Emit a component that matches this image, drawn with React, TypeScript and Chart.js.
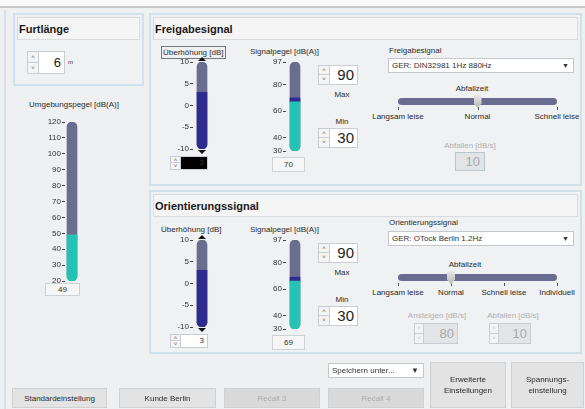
import React, { useEffect, useRef } from "react";
import { Chart, registerables } from "chart.js";
Chart.register(...registerables);

// ---- data ----
const ambientTicks = [20, 30, 40, 50, 60, 70, 80, 90, 100, 110, 120];
const ambientLevel = 49;
const boostTicks = [-10, -5, 0, 5, 10];
const signalTicks = [30, 40, 60, 80, 97];
const releaseBoost = 3;
const releaseSignal = [67, 70]; // base level, level incl. boost
const releaseMax = 90;
const releaseMin = 30;
const orientBoost = 3;
const orientSignal = [66, 69];
const orientMax = 90;
const orientMin = 30;
const ford = 6;
const releaseSteps = ["Langsam leise", "Normal", "Schnell leise"];
const orientSteps = ["Langsam leise", "Normal", "Schnell leise", "Individuell"];
const releaseStep = 1;
const orientStep = 1;
const releaseDecay = 10;
const orientRise = 80;
const orientDecay = 10;

const UI = '"Liberation Sans", Arial, sans-serif';
const GRAY = "#6b6d90";
const INDIGO = "#2f2b8f";
const TEAL = "#24c3b5";

type Seg = { from: number; to: number; color: string; round: "all" | "bottom" | "none" };

function Gauge(props: {
  ticks: number[];
  segs: Seg[];
  caps?: boolean;
  left: number;
  top: number;
  width: number;
  height: number;
  axisW: number;
}) {
  const ref = useRef<HTMLCanvasElement>(null);
  useEffect(() => {
    if (!ref.current) return;
    const { ticks, segs, caps, axisW } = props;
    const capPlugin = {
      id: "caps",
      afterDatasetsDraw(chart: any) {
        if (!caps) return;
        const ctx = chart.ctx;
        const el = chart.getDatasetMeta(0).data[0];
        const x = el.x;
        const { top, bottom } = chart.chartArea;
        ctx.save();
        ctx.fillStyle = "#111";
        ctx.beginPath();
        ctx.moveTo(x - 4, top - 1);
        ctx.lineTo(x + 4, top - 1);
        ctx.lineTo(x, top - 5);
        ctx.closePath();
        ctx.fill();
        ctx.beginPath();
        ctx.moveTo(x - 4, bottom + 1);
        ctx.lineTo(x + 4, bottom + 1);
        ctx.lineTo(x, bottom + 5);
        ctx.closePath();
        ctx.fill();
        ctx.restore();
      },
    };
    const chart = new Chart(ref.current, {
      type: "bar",
      data: {
        labels: [""],
        datasets: segs.map((s) => ({
          data: [[s.from, s.to]] as any,
          backgroundColor: s.color,
          barThickness: 10,
          grouped: false,
          borderSkipped: false,
          borderRadius:
            s.round === "all"
              ? 5
              : s.round === "bottom"
              ? { topLeft: 0, topRight: 0, bottomLeft: 5, bottomRight: 5 }
              : 0,
        })),
      } as any,
      options: {
        animation: false,
        responsive: false,
        maintainAspectRatio: false,
        layout: { padding: { top: 6, bottom: 6, left: 0, right: 0 } },
        plugins: { legend: { display: false }, tooltip: { enabled: false } },
        scales: {
          x: { display: false },
          y: {
            min: ticks[0],
            max: ticks[ticks.length - 1],
            afterBuildTicks: (s: any) => {
              s.ticks = ticks.map((v) => ({ value: v }));
            },
            afterFit: (s: any) => {
              s.width = axisW;
            },
            ticks: {
              autoSkip: false,
              padding: 1,
              color: "#333",
              font: { size: 8, family: UI },
            },
            grid: { drawOnChartArea: false, drawTicks: true, tickLength: 3, color: "#444" },
            border: { display: false },
          },
        },
      } as any,
      plugins: [capPlugin],
    });
    return () => chart.destroy();
  }, []);
  return (
    <canvas
      ref={ref}
      width={props.width}
      height={props.height}
      style={{ position: "absolute", left: props.left, top: props.top, width: props.width, height: props.height }}
    />
  );
}

const abs = (l: number, t: number, w?: number, h?: number): React.CSSProperties => ({
  position: "absolute",
  left: l,
  top: t,
  width: w,
  height: h,
  boxSizing: "border-box",
});

function Text(p: { l: number; t: number; w?: number; s?: number; c?: string; b?: boolean; align?: any; children: any; box?: boolean }) {
  return (
    <div
      style={{
        ...abs(p.l, p.t, p.w),
        fontSize: p.s ?? 8,
        color: p.c ?? "#2a2a2a",
        fontWeight: p.b ? "bold" : "normal",
        textAlign: p.align ?? "left",
        whiteSpace: "nowrap",
        lineHeight: "11px",
        border: p.box ? "1px solid #777" : undefined,
        padding: p.box ? "0 1px" : undefined,
      }}
    >
      {p.children}
    </div>
  );
}

function Spinner(p: {
  l: number;
  t: number;
  w: number;
  h: number;
  value: any;
  size: number;
  bg?: string;
  color?: string;
  disabled?: boolean;
  btnW?: number;
}) {
  const bw = p.btnW ?? 11;
  const bcol = p.disabled ? "#bbb" : "#555";
  return (
    <div style={{ ...abs(p.l, p.t, p.w, p.h), border: "1px solid #c9cdd1", background: "#f4f4f4" }}>
      <div style={{ ...abs(0, 0, bw, (p.h - 2) / 2), borderRight: "1px solid #c9cdd1", borderBottom: "1px solid #c9cdd1", fontSize: 6, color: bcol, textAlign: "center", lineHeight: (p.h - 2) / 2 + "px" }}>˄</div>
      <div style={{ ...abs(0, (p.h - 2) / 2, bw, (p.h - 2) / 2), borderRight: "1px solid #c9cdd1", fontSize: 6, color: bcol, textAlign: "center", lineHeight: (p.h - 2) / 2 + "px" }}>˅</div>
      <div
        style={{
          ...abs(bw, 0, p.w - bw - 2, p.h - 2),
          background: p.bg ?? "#fff",
          color: p.color ?? (p.disabled ? "#a9a9a9" : "#222"),
          fontSize: p.size,
          textAlign: "right",
          paddingRight: 3,
          lineHeight: p.h - 2 + "px",
        }}
      >
        {p.value}
      </div>
    </div>
  );
}

function ValueBox(p: { l: number; t: number; w: number; h: number; v: any }) {
  return (
    <div style={{ ...abs(p.l, p.t, p.w, p.h), border: "1px solid #cfd2d5", background: "#f6f6f6", fontSize: 8, color: "#333", textAlign: "center", lineHeight: p.h - 2 + "px" }}>
      {p.v}
    </div>
  );
}

function Panel(p: { l: number; t: number; w: number; h: number; title: string }) {
  return (
    <div style={{ ...abs(p.l, p.t, p.w, p.h), border: "2px solid #cde2ea", background: "#f0f1f2" }}>
      <div style={{ ...abs(2, 2, p.w - 8, 23), border: "1px solid #d8dcdf", background: "#f5f5f5" }} />
      <div style={{ ...abs(4, 8, undefined, undefined), fontSize: 11, fontWeight: "bold", color: "#1a1a1a", fontFamily: UI, lineHeight: "12px" }}>{p.title}</div>
    </div>
  );
}

function Dropdown(p: { l: number; t: number; w: number; h: number; text: string }) {
  return (
    <div style={{ ...abs(p.l, p.t, p.w, p.h), border: "1px solid #c4c8cc", background: "#fff", fontSize: 8, color: "#333", paddingLeft: 3, lineHeight: p.h - 2 + "px" }}>
      {p.text}
      <span style={{ position: "absolute", right: 4, top: 0, fontSize: 7, color: "#333" }}>▼</span>
    </div>
  );
}

function Slider(p: { l: number; t: number; w: number; steps: string[]; idx: number; title: string; titleX: number }) {
  const n = p.steps.length;
  const pos = (i: number) => (p.w * i) / (n - 1);
  return (
    <>
      <Text l={p.titleX - 40} t={p.t - 15} w={80} align="center">{p.title}</Text>
      <div style={{ ...abs(p.l, p.t, p.w, 7), background: GRAY, borderRadius: 4 }} />
      {p.steps.map((s, i) => (
        <React.Fragment key={s}>
          <div style={{ ...abs(p.l + pos(i), p.t + 9, 1, 3), background: "#555" }} />
          <Text l={p.l + pos(i) - 35} t={p.t + 13} w={70} align="center">{s}</Text>
        </React.Fragment>
      ))}
      <div
        style={{
          ...abs(p.l + pos(p.idx) - 4, p.t - 3, 8, 13),
          background: "linear-gradient(#e8e8e8,#b9b9b9)",
          clipPath: "polygon(0 0,100% 0,100% 65%,50% 100%,0 65%)",
        }}
      />
    </>
  );
}

function Button(p: { l: number; t: number; w: number; h: number; text: any; disabled?: boolean }) {
  return (
    <div
      style={{
        ...abs(p.l, p.t, p.w, p.h),
        border: "1px solid #d0d0d0",
        background: p.disabled ? "#d9d9d9" : "#e3e3e3",
        color: p.disabled ? "#ababab" : "#2a2a2a",
        fontSize: 8,
        display: "flex",
        alignItems: "center",
        justifyContent: "center",
        textAlign: "center",
        lineHeight: "11px",
      }}
    >
      {p.text}
    </div>
  );
}

function SignalBlock(p: { y: number; boost: number; sig: number[]; max: number; min: number; boxed: boolean; black: boolean }) {
  const y = p.y;
  return (
    <>
      <Text l={161} t={y - 6} box={p.boxed}>Überhöhung [dB]</Text>
      <Gauge
        ticks={boostTicks}
        segs={[
          { from: boostTicks[0], to: p.boost, color: INDIGO, round: "bottom" },
          { from: boostTicks[0], to: boostTicks[boostTicks.length - 1], color: GRAY, round: "all" },
        ]}
        caps
        left={163}
        top={y + 4}
        width={48}
        height={87 + 12}
        axisW={30}
      />
      <Spinner l={170} t={y + 104} w={38} h={14} value={p.boost} size={8} bg={p.black ? "#000" : "#fff"} color="#333" btnW={10} />
      <Text l={250} t={y - 6}>Signalpegel [dB(A)]</Text>
      <Gauge
        ticks={signalTicks}
        segs={[
          { from: signalTicks[0], to: p.sig[0], color: TEAL, round: "bottom" },
          { from: p.sig[0], to: p.sig[1], color: INDIGO, round: "none" },
          { from: signalTicks[0], to: signalTicks[signalTicks.length - 1], color: GRAY, round: "all" },
        ]}
        left={256}
        top={y + 4}
        width={48}
        height={89 + 12}
        axisW={30}
      />
      <ValueBox l={272} t={y + 105} w={33} h={15} v={p.sig[1]} />
      <Spinner l={318} t={y + 13} w={40} h={20} value={p.max} size={15} />
      <Text l={322} t={y + 37} w={40} align="center">Max</Text>
      <Text l={322} t={y + 64} w={40} align="center">Min</Text>
      <Spinner l={318} t={y + 76} w={40} h={20} value={p.min} size={15} />
    </>
  );
}

export default function App() {
  useEffect(() => {
    document.body.style.margin = "0";
  }, []);
  return (
    <div style={{ position: "fixed", left: 0, top: 0, width: 585, height: 409, overflow: "hidden", background: "#eef0f1", fontFamily: UI }}>
      <div style={{ ...abs(0, 0, 585, 8), background: "#f9f9f9", borderBottom: "2px solid #c9c9c9" }} />
      <div style={{ ...abs(4, 10, 2, 399), background: "#d4e4ea" }} />

      {/* Furtlänge */}
      <Panel l={13} t={13} w={131} h={73} title="Furtlänge" />
      <Spinner l={27} t={51} w={38} h={23} value={ford} size={13} />
      <Text l={68} t={57} s={6}>m</Text>

      {/* Umgebungspegel */}
      <Text l={15} t={99} w={118} align="center">Umgebungspegel [dB(A)]</Text>
      <Gauge
        ticks={ambientTicks}
        segs={[
          { from: ambientTicks[0], to: ambientLevel, color: TEAL, round: "bottom" },
          { from: ambientTicks[0], to: ambientTicks[ambientTicks.length - 1], color: GRAY, round: "all" },
        ]}
        left={35}
        top={116}
        width={44}
        height={171}
        axisW={30}
      />
      <ValueBox l={45} t={283} w={35} h={13} v={ambientLevel} />

      {/* Freigabesignal */}
      <Panel l={149} t={13} w={433} h={173} title="Freigabesignal" />
      <SignalBlock y={52} boost={releaseBoost} sig={releaseSignal} max={releaseMax} min={releaseMin} boxed black />
      <Text l={389} t={45}>Freigabesignal</Text>
      <Dropdown l={388} t={58} w={186} h={15} text="GER: DIN32981 1Hz 880Hz" />
      <Slider l={398} t={98} w={159} steps={releaseSteps} idx={releaseStep} title="Abfallzeit" titleX={472} />
      <Text l={420} t={140} w={100} align="center" c="#b0b0b0">Abfallen [dB/s]</Text>
      <div style={{ ...abs(455, 152, 30, 19), border: "1px solid #b7c7d0", background: "#e2e4e6", color: "#a9a9a9", fontSize: 13, textAlign: "right", paddingRight: 4, lineHeight: "17px" }}>{releaseDecay}</div>

      {/* Orientierungssignal */}
      <Panel l={149} t={190} w={433} h={164} title="Orientierungssignal" />
      <SignalBlock y={230} boost={orientBoost} sig={orientSignal} max={orientMax} min={orientMin} boxed={false} black={false} />
      <Text l={389} t={217}>Orientierungssignal</Text>
      <Dropdown l={388} t={231} w={186} h={15} text="GER: OTock Berlin 1.2Hz" />
      <Slider l={398} t={274} w={159} steps={orientSteps} idx={orientStep} title="Abfallzeit" titleX={465} />
      <Text l={387} t={310} w={100} align="center" c="#b0b0b0">Ansteigen [dB/s]</Text>
      <Text l={463} t={310} w={100} align="center" c="#b0b0b0">Abfallen [dB/s]</Text>
      <Spinner l={414} t={323} w={44} h={21} value={orientRise} size={13} disabled bg="#e2e4e6" btnW={9} />
      <Spinner l={489} t={323} w={42} h={21} value={orientDecay} size={13} disabled bg="#e2e4e6" btnW={9} />

      {/* bottom */}
      <div style={{ ...abs(328, 363, 96, 15), border: "1px solid #c4c8cc", background: "#fff", fontSize: 8, color: "#333", paddingLeft: 3, lineHeight: "13px" }}>
        Speichern unter...
        <span style={{ position: "absolute", right: 4, top: 0, fontSize: 8 }}>▼</span>
      </div>
      <Button l={12} t={388} w={95} h={20} text="Standardeinstellung" />
      <Button l={119} t={388} w={97} h={20} text="Kunde Berlin" />
      <Button l={224} t={388} w={96} h={20} text="Recall 3" disabled />
      <Button l={328} t={388} w={96} h={20} text="Recall 4" disabled />
      <Button l={430} t={362} w={76} h={46} text={<span>Erweiterte<br />Einstellungen</span>} />
      <Button l={511} t={362} w={73} h={46} text={<span>Spannungs-<br />einstellung</span>} />
    </div>
  );
}
